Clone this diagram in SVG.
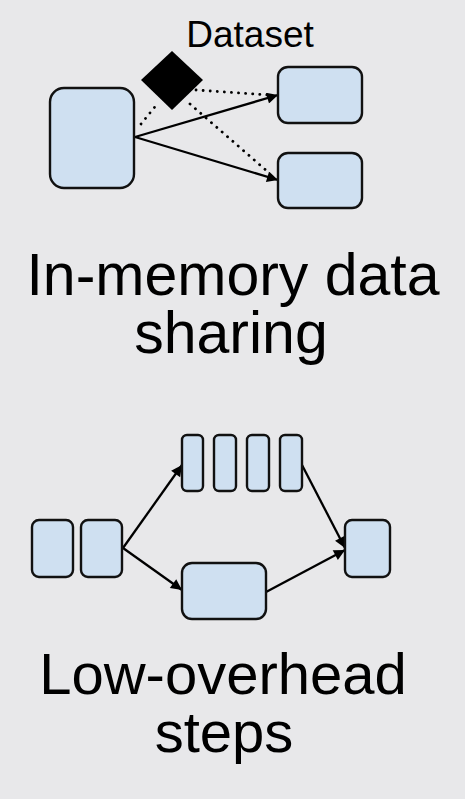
<svg xmlns="http://www.w3.org/2000/svg" width="465" height="799" viewBox="0 0 465 799">
<style>
.box{fill:#cfe0f1;stroke:#111;stroke-width:2.4}
.ln{stroke:#000;stroke-width:2.3;fill:none}
.dot{stroke:#000;stroke-width:2.8;fill:none;stroke-dasharray:0.1 7;stroke-linecap:round}
.t{font-family:"Liberation Sans",Arial,sans-serif;fill:#000;text-anchor:middle}
</style>
<defs>
<marker id="a" viewBox="0 0 10 10" refX="10" refY="5" markerWidth="15" markerHeight="11" orient="auto" markerUnits="userSpaceOnUse">
<path d="M0,0 L10,5 L0,10 z" fill="#000"/>
</marker>
</defs>
<rect width="465" height="799" fill="#e8e8ea"/>
<g id="connectors">
<line class="dot" x1="141" y1="124" x2="158" y2="103"/>
<line class="dot" x1="196" y1="90" x2="268" y2="95"/>
<line class="dot" x1="190" y1="104" x2="268" y2="172"/>
<line class="ln" x1="135" y1="137" x2="278" y2="95" marker-end="url(#a)"/>
<line class="ln" x1="135" y1="137" x2="278" y2="180" marker-end="url(#a)"/>
<line class="ln" x1="123" y1="548" x2="182" y2="465" marker-end="url(#a)"/>
<line class="ln" x1="123" y1="548" x2="182" y2="590" marker-end="url(#a)"/>
<line class="ln" x1="302" y1="465" x2="345" y2="548" marker-end="url(#a)"/>
<line class="ln" x1="266" y1="592" x2="345" y2="550" marker-end="url(#a)"/>
</g>
<g id="src"><rect class="box" x="50" y="88" width="84" height="100" rx="14"/></g>
<g id="dataset"><polygon points="172,51 203,80 172,110 141,80" fill="#000"/>
<text class="t" x="250" y="47" font-size="37">Dataset</text></g>
<g id="out1"><rect class="box" x="278" y="67" width="84" height="56" rx="10"/></g>
<g id="out2"><rect class="box" x="278" y="153" width="84" height="55" rx="10"/></g>
<g id="label1"><text class="t" x="233" y="295" font-size="59">In-memory data</text>
<text class="t" x="231" y="353" font-size="59">sharing</text></g>
<g id="inA"><rect class="box" x="32" y="520" width="41" height="57" rx="7"/></g>
<g id="inB"><rect class="box" x="81" y="520" width="41" height="57" rx="7"/></g>
<g id="step1"><rect class="box" x="182" y="435" width="21" height="56" rx="5"/></g>
<g id="step2"><rect class="box" x="214" y="435" width="22" height="56" rx="5"/></g>
<g id="step3"><rect class="box" x="247" y="435" width="22" height="56" rx="5"/></g>
<g id="step4"><rect class="box" x="280" y="435" width="22" height="56" rx="5"/></g>
<g id="mid"><rect class="box" x="182" y="563" width="84" height="56" rx="10"/></g>
<g id="out"><rect class="box" x="345" y="520" width="45" height="57" rx="7"/></g>
<g id="label2"><text class="t" x="223" y="694" font-size="58">Low-overhead</text>
<text class="t" x="224" y="752" font-size="58">steps</text></g>
</svg>
